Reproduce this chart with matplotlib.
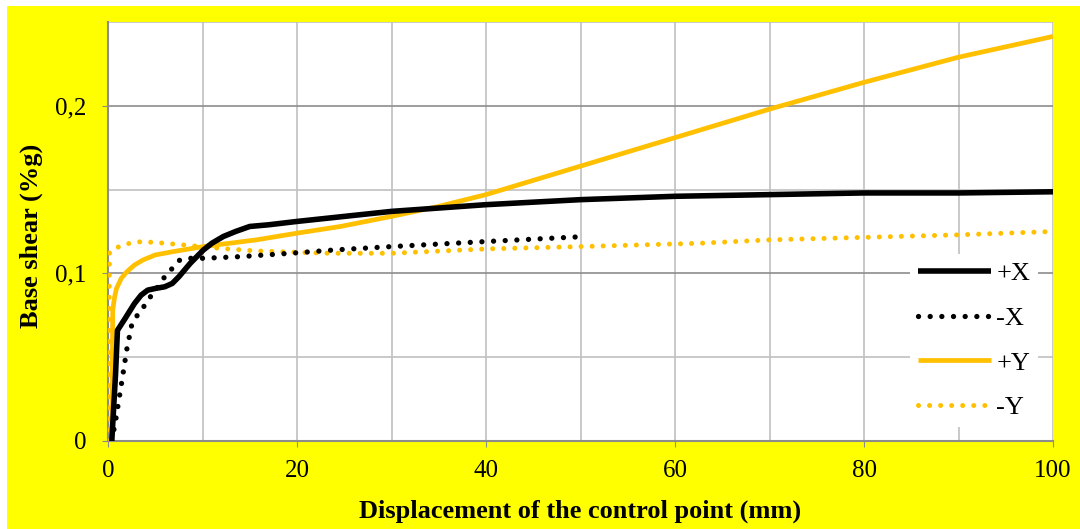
import numpy as np
import matplotlib
matplotlib.use("Agg")
import matplotlib.pyplot as plt
from matplotlib.patches import Rectangle
from matplotlib.ticker import MultipleLocator, FuncFormatter

plt.rcParams['font.family'] = ['Liberation Serif', 'DejaVu Serif']

# pushover curves
px_x = [0.4, 0.8, 1.0, 1.8, 2.8, 3.5, 4.2, 5.0, 6.0, 6.8, 7.5, 8.7, 10.1, 11.0, 12.2, 13.5, 15.0, 17.0,
        20, 25, 30, 40, 50, 60, 70, 80, 90, 100]
px_y = [0, 0.04, 0.066, 0.073, 0.082, 0.087, 0.090, 0.091, 0.092, 0.094, 0.098, 0.106, 0.114, 0.118,
        0.122, 0.125, 0.128, 0.129, 0.131, 0.134, 0.137, 0.141, 0.144, 0.146, 0.147, 0.148, 0.148, 0.1487]

mx_x = [0.4, 0.8, 1.45, 2.0, 2.5, 3.2, 3.9, 4.6, 5.3, 6.0, 6.8, 7.6, 8.5, 10.1, 14, 19.3, 24, 30, 40, 50.5]
mx_y = [0, 0.012, 0.035, 0.055, 0.069, 0.076, 0.081, 0.087, 0.092, 0.098, 0.103, 0.108, 0.109, 0.109,
        0.110, 0.112, 0.114, 0.116, 0.119, 0.122]

py_x = [0.4, 0.45, 0.5, 0.7, 0.9, 1.4, 2.0, 2.8, 3.7, 5.0, 6.9, 10.1, 15.7, 20, 24.6, 30, 35, 40,
        50, 60, 70, 80, 90, 100]
py_y = [0, 0.04, 0.078, 0.086, 0.091, 0.097, 0.101, 0.105, 0.108, 0.111, 0.113, 0.116, 0.120, 0.124,
        0.128, 0.134, 0.140, 0.147, 0.164, 0.181, 0.198, 0.214, 0.229, 0.2414]

my_x = [0.1, 0.1, 0.15, 0.4, 1.2, 2.3, 3.6, 6.0, 8.7, 12.2, 15.7, 20, 23.5, 30, 40, 50, 62.7, 70,
        80, 90, 100]
my_y = [0, 0.06, 0.112, 0.114, 0.116, 0.118, 0.119, 0.118, 0.1166, 0.1148, 0.1134, 0.1126, 0.112,
        0.112, 0.1146, 0.116, 0.118, 0.120, 0.1215, 0.123, 0.125]

labels = ["+X", "-X", "+Y", "-Y"]
gold = "#FFC000"

fig = plt.figure(figsize=(10.8, 5.29), dpi=100)
fig.patch.set_facecolor("white")
fig.patches.append(Rectangle((7 / 1080, 0), 1, 1 - 6 / 529, transform=fig.transFigure,
                             facecolor="#FFFF00", edgecolor="none", zorder=-10))

ax = fig.add_axes([0.1, 0.1664, 0.875, 0.792])
ax.set_facecolor("white")

dots = (0, (0.01, 2.2))
ax.plot(px_x, px_y, color="black", lw=4.0, label=labels[0], solid_capstyle="butt", zorder=4)
ax.plot(mx_x, mx_y, color="black", lw=3.8, linestyle=dots, dash_capstyle="round",
        label=labels[1], zorder=4)
ax.plot(py_x, py_y, color=gold, lw=3.4, label=labels[2], solid_capstyle="butt", zorder=3)
ax.plot(my_x, my_y, color=gold, lw=3.6, linestyle=dots, dash_capstyle="round",
        label=labels[3], zorder=3)

ax.set_xlim(0, 100)
ax.set_ylim(0, 0.25)
ax.xaxis.set_major_locator(MultipleLocator(20))
ax.xaxis.set_minor_locator(MultipleLocator(10))
ax.yaxis.set_major_locator(MultipleLocator(0.1))
ax.yaxis.set_minor_locator(MultipleLocator(0.05))
ax.yaxis.set_major_formatter(FuncFormatter(lambda v, p: "0" if v == 0 else ("%g" % round(v, 2)).replace(".", ",")))

ax.grid(which="major", axis="y", color="#8c8c8c", lw=1.2, zorder=0)
ax.grid(which="minor", axis="y", color="#c0c0c0", lw=1.2, zorder=0)
ax.grid(which="both", axis="x", color="#c0c0c0", lw=1.2, zorder=0)
ax.set_axisbelow(True)

for s in ["top", "right"]:
    ax.spines[s].set_visible(False)
for s in ["left", "bottom"]:
    ax.spines[s].set_color("#8c8c8c")
    ax.spines[s].set_linewidth(1.5)

ax.tick_params(which="major", direction="out", length=4, color="#8c8c8c", labelsize=18)
ax.tick_params(axis="y", pad=11.5)
ax.tick_params(axis="x", pad=10)
ax.tick_params(which="minor", length=0)

ax.set_xlabel("Displacement of the control point (mm)", fontsize=19, fontweight="bold")
ax.set_ylabel("Base shear (%g)", fontsize=19, fontweight="bold")
ax.xaxis.set_label_coords(0.5, -0.14)
ax.yaxis.set_label_coords(-0.069, 0.49)

leg = ax.legend(loc="lower right", bbox_to_anchor=(1038 / 1080, 1 - 427 / 529),
                bbox_transform=fig.transFigure, fontsize=19, frameon=True, facecolor="white",
                edgecolor="none", framealpha=1, fancybox=False, borderpad=0.3,
                handlelength=2.77, handletextpad=0.2, labelspacing=0.8, borderaxespad=0)

fig.savefig("out.png", dpi=100, facecolor=fig.get_facecolor())
